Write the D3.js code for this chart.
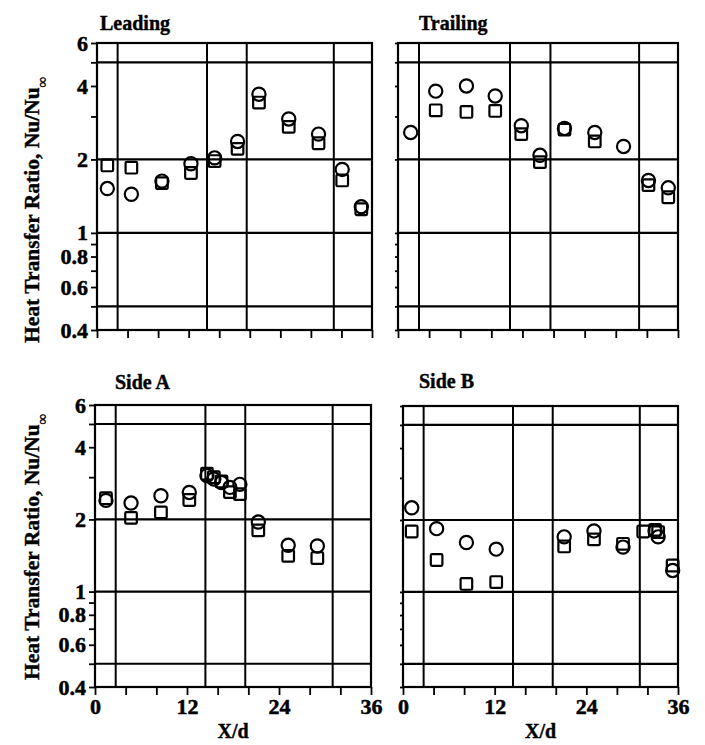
<!DOCTYPE html>
<html>
<head>
<meta charset="utf-8">
<script src="https://cdn.jsdelivr.net/npm/d3@7"></script>
<style>
  html, body { margin: 0; padding: 0; background: #fff; }
  svg { display: block; }
  text { font-family: "Liberation Serif", "Times New Roman", serif; font-weight: bold; fill: #000; }
</style>
</head>
<body>
<svg id="chart" width="705" height="745"></svg>
<script>
// ---- data ----
const xTicks = [0, 4, 8, 12, 16, 20, 24, 28, 32, 36];
const xTickLabels = [0, 12, 24, 36];
const yTicks = [0.4, 0.5, 0.6, 0.7, 0.8, 0.9, 1, 2, 3, 4, 5, 6];
const yTickLabels = [0.4, 0.6, 0.8, 1, 2, 4, 6];
const gridY = [0.5, 1, 2, 5];
const gridX = [2.7, 14.4, 19.6, 31.0];

const leadingX      = [1.35, 4.5, 8.5, 12.3, 15.4, 18.4, 21.2, 25.1, 29.0, 32.1, 34.6];
const leadingCircle = [1.52, 1.44, 1.63, 1.92, 2.03, 2.37, 3.70, 2.93, 2.54, 1.82, 1.28];
const leadingSquare = [1.89, 1.85, 1.60, 1.76, 1.97, 2.21, 3.42, 2.72, 2.33, 1.64, 1.25];

const trailingX      = [1.63, 4.85, 8.8, 12.5, 15.85, 18.25, 21.4, 25.3, 29.0, 32.2, 34.75];
const trailingCircle = [2.58, 3.81, 4.00, 3.64, 2.75, 2.08, 2.68, 2.58, 2.26, 1.64, 1.53];
const trailingSquare = [null, 3.18, 3.13, 3.16, 2.54, 1.95, 2.65, 2.37, null, 1.57, 1.40];

const sideAX      = [1.43, 4.7, 8.6, 12.3, 14.6, 15.5, 16.5, 17.6, 18.9, 21.3, 25.2, 29.0];
const sideACircle = [2.40, 2.34, 2.51, 2.59, 3.05, 2.95, 2.85, 2.72, 2.80, 1.95, 1.56, 1.55];
const sideASquare = [2.45, 2.03, 2.14, 2.41, 3.10, 3.00, 2.88, 2.60, 2.55, 1.80, 1.41, 1.38];

const sideBX      = [1.14, 4.4, 8.3, 12.2, 21.1, 25.0, 28.8, 31.45, 33.0, 33.4, 35.3];
const sideBCircle = [2.25, 1.84, 1.61, 1.51, 1.70, 1.80, 1.54, null, 1.80, 1.70, 1.23];
const sideBSquare = [1.79, 1.36, 1.08, 1.10, 1.55, 1.66, 1.59, 1.79, 1.82, 1.78, 1.29];

const panelTitles = ["Leading", "Trailing", "Side A", "Side B"];

// ---- layout ----
const panels = [
  { title: panelTitles[0], x: leadingX,  c: leadingCircle,  s: leadingSquare,  left: 97,  right: 372, top: 43,  bottom: 330, yLabels: true,  xLabels: false, titleX: 100, titleY: 30,  labelY: 343 },
  { title: panelTitles[1], x: trailingX, c: trailingCircle, s: trailingSquare, left: 398, right: 678, top: 43,  bottom: 330, yLabels: false, xLabels: false, titleX: 419, titleY: 30 },
  { title: panelTitles[2], x: sideAX,    c: sideACircle,    s: sideASquare,    left: 95,  right: 371, top: 405, bottom: 687, yLabels: true,  xLabels: true,  titleX: 115, titleY: 389, labelY: 680 },
  { title: panelTitles[3], x: sideBX,    c: sideBCircle,    s: sideBSquare,    left: 403, right: 678, top: 406, bottom: 687, yLabels: false, xLabels: true,  titleX: 419, titleY: 388 }
];

const svg = d3.select("#chart");
const fmt = d => (d < 1 ? d3.format(".1f")(d) : String(d));

panels.forEach(p => {
  const x = d3.scaleLinear().domain([0, 36]).range([p.left, p.right]);
  const y = d3.scaleLog().domain([0.4, 6]).range([p.bottom, p.top]);
  const g = svg.append("g");

  // grid lines
  g.selectAll(".gy").data(gridY).join("line")
    .attr("x1", p.left).attr("x2", p.right)
    .attr("y1", d => y(d)).attr("y2", d => y(d))
    .attr("stroke", "#000").attr("stroke-width", 2.2);
  g.selectAll(".gx").data(gridX).join("line")
    .attr("y1", p.top).attr("y2", p.bottom)
    .attr("x1", d => x(d)).attr("x2", d => x(d))
    .attr("stroke", "#000").attr("stroke-width", 2);

  // frame
  g.append("rect")
    .attr("x", p.left).attr("y", p.top)
    .attr("width", p.right - p.left).attr("height", p.bottom - p.top)
    .attr("fill", "none").attr("stroke", "#000").attr("stroke-width", 2.2);

  // y axis
  const ya = g.append("g").attr("transform", `translate(${p.left},0)`)
    .call(d3.axisLeft(y).tickValues(yTicks)
      .tickSize(p.yLabels ? 6 : 3).tickPadding(3)
      .tickFormat(d => (p.yLabels && yTickLabels.includes(d)) ? fmt(d) : ""));
  ya.select(".domain").remove();
  ya.selectAll("line").attr("stroke-width", 1.8);
  ya.selectAll("text").style("font-size", "22px").attr("font-family", null)
    .attr("stroke", "#000").attr("stroke-width", 0.5);

  // x axis
  const xa = g.append("g").attr("transform", `translate(0,${p.bottom})`)
    .call(d3.axisBottom(x).tickValues(xTicks).tickSize(8).tickPadding(3)
      .tickFormat(d => (p.xLabels && xTickLabels.includes(d)) ? String(d) : ""));
  xa.select(".domain").remove();
  xa.selectAll("line").attr("stroke-width", 1.8);
  xa.selectAll("text").style("font-size", "22px").attr("font-family", null)
    .attr("stroke", "#000").attr("stroke-width", 0.5);

  // markers: squares then circles, open
  const sq = p.x.map((v, i) => ({ x: v, y: p.s[i] })).filter(d => d.y != null);
  const ci = p.x.map((v, i) => ({ x: v, y: p.c[i] })).filter(d => d.y != null);
  const half = 5.8;
  g.selectAll(".sq").data(sq).join("rect")
    .attr("x", d => x(d.x) - half).attr("y", d => y(d.y) - half)
    .attr("width", half * 2).attr("height", half * 2).attr("rx", 1.2)
    .attr("fill", "none").attr("stroke", "#000").attr("stroke-width", 2.2);
  g.selectAll(".ci").data(ci).join("circle")
    .attr("cx", d => x(d.x)).attr("cy", d => y(d.y)).attr("r", 6.6)
    .attr("fill", "none").attr("stroke", "#000").attr("stroke-width", 2.2);

  // panel title
  svg.append("text")
    .attr("x", p.titleX).attr("y", p.titleY)
    .style("font-size", "20px")
    .attr("stroke", "#000").attr("stroke-width", 0.4)
    .text(p.title);

  // x axis title
  if (p.xLabels) {
    svg.append("text")
      .attr("x", (p.left + p.right) / 2).attr("y", 738)
      .attr("text-anchor", "middle")
      .style("font-size", "20px")
      .attr("stroke", "#000").attr("stroke-width", 0.4)
      .text("X/d");
  }

  // y axis title
  if (p.yLabels) {
    const t = svg.append("text")
      .attr("transform", `translate(39,${p.labelY}) rotate(-90)`)
      .attr("text-anchor", "start")
      .style("font-size", "21.5px")
      .attr("stroke", "#000").attr("stroke-width", 0.4);
    t.append("tspan").text("Heat Transfer Ratio, Nu/Nu");
    t.append("tspan").attr("baseline-shift", "sub").style("font-size", "15px").text("\u221E");
  }
});
</script>
</body>
</html>
